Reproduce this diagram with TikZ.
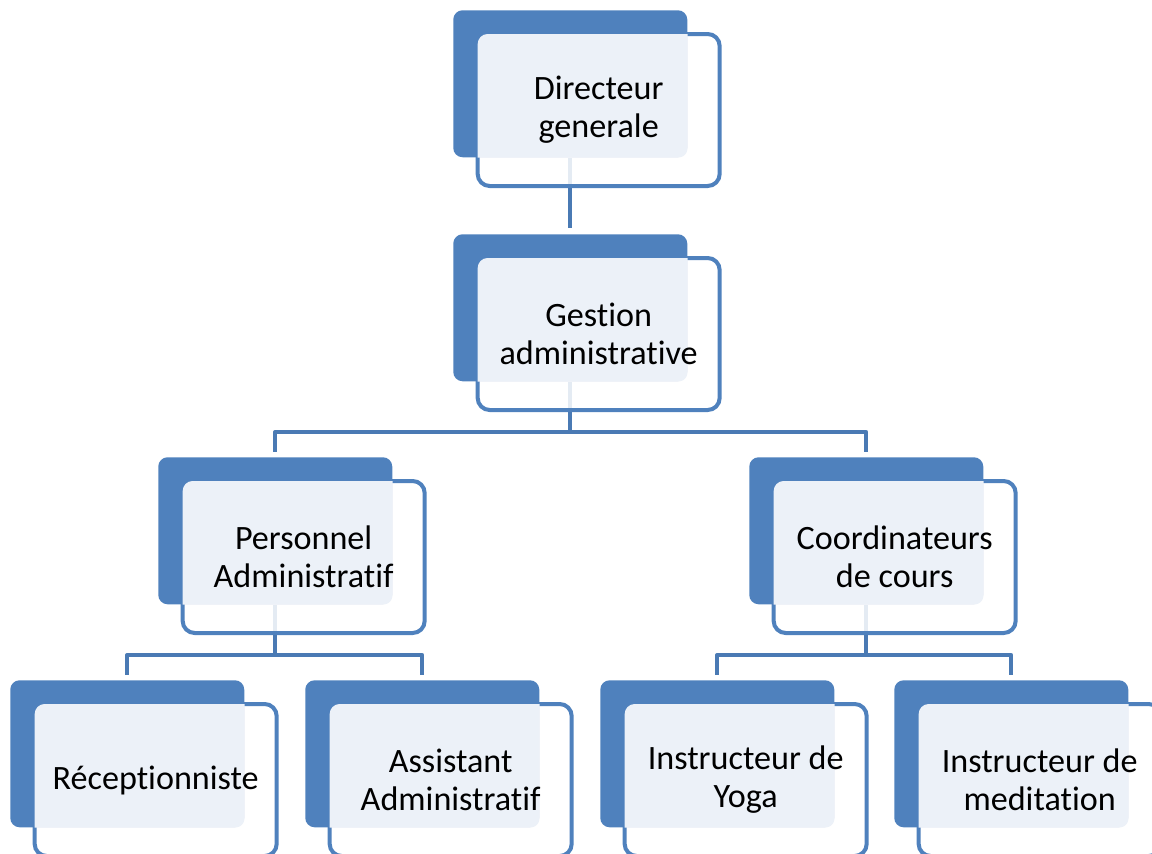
\documentclass[tikz,border=0pt]{standalone}
\usepackage{fontspec}
\setmainfont{Carlito}[Ligatures=NoCommon, RawFeature={-liga;-clig;-dlig}]
\usetikzlibrary{positioning, backgrounds}

\definecolor{boxblue}{HTML}{4F81BD}
\definecolor{linkblue}{HTML}{4A7AB4}
\definecolor{paleblue}{HTML}{ECF1F8}

\tikzset{
  backbox/.style={fill=boxblue, rounded corners=7pt, inner sep=0pt, anchor=north west,
    minimum width=175.5pt, minimum height=110.25pt},
  frontbox/.style={draw=boxblue, line width=3pt, fill=white, fill opacity=0.85,
    rounded corners=9pt, inner sep=0pt, anchor=north west,
    minimum width=181.5pt, minimum height=114pt},
  boxtext/.style={align=center, text=black, font=\fontsize{25.6}{28.5}\selectfont},
  link/.style={draw=linkblue, line width=3pt, line join=round}
}

% one box of the chart: name, x, y (top left of the dark box), text
\newcommand{\orgbox}[4]{%
  \node[backbox] (#1B) at (#2,#3) {};
  \node[frontbox] (#1F) at ([xshift=17pt,yshift=-16.5pt]#1B.north west) {};
  \begin{scope}
    \clip[rounded corners=7pt] (#1B.north west) rectangle (#1B.south east);
    \fill[paleblue, rounded corners=7.5pt] ([xshift=1.5pt,yshift=-1.5pt]#1F.north west)
      rectangle ([xshift=-1.5pt,yshift=1.5pt]#1F.south east);
  \end{scope}
  \node[boxtext] (#1) at (#1F.center) {#4};
}

\begin{document}
\begin{tikzpicture}[x=0.75pt, y=-0.75pt]

  \useasboundingbox (0,0) rectangle (1152,853);

  % Top levels
  \orgbox{dg}{453}{10}{Directeur\\generale}
  \orgbox{ga}{453}{234}{Gestion\\administrative}

  % Middle level
  \orgbox{pa}{158}{457}{Personnel\\Administratif}
  \orgbox{cc}{749}{457}{Coordinateurs\\de cours}

  % Bottom level
  \orgbox{rc}{10}{680}{R\'eceptionniste}
  \orgbox{aa}{305}{680}{Assistant\\Administratif}
  \orgbox{iy}{600}{680}{Instructeur de\\Yoga}
  \orgbox{im}{894}{680}{Instructeur de\\meditation}

  % Connectors
  \begin{scope}[on background layer]
    \draw[link] (dgB.south) -- ([yshift=4.5pt]gaB.north);

    \coordinate (j1) at (gaB.south |- 0,432);
    \draw[link] (gaB.south) -- (j1) -| ([yshift=3.75pt]paB.north);
    \draw[link] (j1) -| ([yshift=3.75pt]ccB.north);

    \coordinate (j2) at (paB.south |- 0,655);
    \draw[link] (paB.south) -- (j2) -| ([yshift=3.75pt]rcB.north);
    \draw[link] (j2) -| ([yshift=3.75pt]aaB.north);

    \coordinate (j3) at (ccB.south |- 0,655);
    \draw[link] (ccB.south) -- (j3) -| ([yshift=3.75pt]iyB.north);
    \draw[link] (j3) -| ([yshift=3.75pt]imB.north);
  \end{scope}

\end{tikzpicture}
\end{document}
